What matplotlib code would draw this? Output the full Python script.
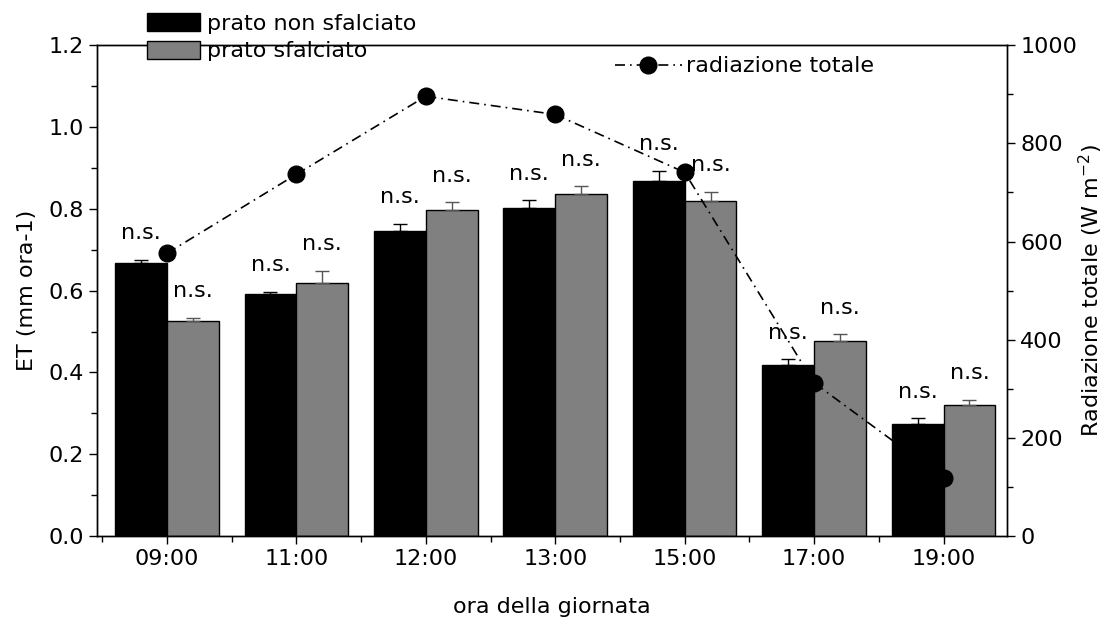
import numpy as np
import matplotlib.pyplot as plt
from matplotlib.ticker import MultipleLocator

plt.rcParams['font.family'] = ['DejaVu Sans']
plt.rcParams['font.size'] = 16

ore = ["09:00", "11:00", "12:00", "13:00", "15:00", "17:00", "19:00"]
et_non_sfalciato = [0.667, 0.592, 0.746, 0.802, 0.868, 0.418, 0.275]
err_non_sfalciato = [0.008, 0.005, 0.017, 0.019, 0.025, 0.014, 0.013]
et_sfalciato = [0.525, 0.618, 0.797, 0.836, 0.820, 0.476, 0.320]
err_sfalciato = [0.009, 0.030, 0.019, 0.019, 0.022, 0.017, 0.013]
radiazione = [576, 737, 896, 859, 741, 312, 118]
etichette = ["n.s."] * 7

x = np.arange(len(ore))
w = 0.4

fig, ax = plt.subplots(figsize=(11.09, 6.2), dpi=100)
fig.subplots_adjust(left=0.0875, right=0.908, top=0.927, bottom=0.1355)

b1 = ax.bar(x - w / 2, et_non_sfalciato, w, color='black', edgecolor='black',
            linewidth=1, label='prato non sfalciato')
b2 = ax.bar(x + w / 2, et_sfalciato, w, color='#808080', edgecolor='black',
            linewidth=1, label='prato sfalciato')
ax.errorbar(x - w / 2, et_non_sfalciato, yerr=[np.zeros(7), err_non_sfalciato],
            fmt='none', ecolor='black', elinewidth=1, capsize=5)
ax.errorbar(x + w / 2, et_sfalciato, yerr=[np.zeros(7), err_sfalciato],
            fmt='none', ecolor='#555555', elinewidth=1, capsize=5)

for i in range(len(ore)):
    ax.annotate(etichette[i], (x[i] - w / 2, et_non_sfalciato[i] + err_non_sfalciato[i]),
                xytext=(0, 12), textcoords='offset points', ha='center', va='bottom')
    ax.annotate(etichette[i], (x[i] + w / 2, et_sfalciato[i] + err_sfalciato[i]),
                xytext=(0, 12), textcoords='offset points', ha='center', va='bottom')

ax.set_xlim(-0.54, 6.49)
ax.set_ylim(0, 1.2)
ax.set_xticks(x)
ax.set_xticklabels(ore)
ax.xaxis.set_minor_locator(MultipleLocator(0.5))
ax.yaxis.set_major_locator(MultipleLocator(0.2))
ax.yaxis.set_minor_locator(MultipleLocator(0.1))
ax.yaxis.set_major_formatter(plt.FormatStrFormatter('%.1f'))
ax.tick_params(which='major', direction='out', length=6, width=1)
ax.tick_params(which='minor', direction='out', length=4, width=1)
ax.set_ylabel("ET (mm ora-1)", labelpad=8)
ax.set_xlabel("ora della giornata", labelpad=20)

ax2 = ax.twinx()
ln, = ax2.plot(x, radiazione, color='black', linestyle='-.', dashes=(6, 3, 1, 3),
               linewidth=1.2, marker='o', markersize=12, label='radiazione totale')
ax2.set_ylim(0, 1000)
ax2.yaxis.set_major_locator(MultipleLocator(200))
ax2.yaxis.set_minor_locator(MultipleLocator(100))
ax2.tick_params(which='major', direction='out', length=6, width=1)
ax2.tick_params(which='minor', direction='out', length=4, width=1)
ax2.set_ylabel("Radiazione totale (W m$^{-2}$)", labelpad=0)
ax2.set_zorder(ax.get_zorder() + 1)

for a in (ax, ax2):
    for s in a.spines.values():
        s.set_linewidth(1)

fig.legend(handles=[b1, b2], loc='upper left', bbox_to_anchor=(0.1325, 0.979),
           frameon=False, handlelength=2.4, handleheight=0.9, borderaxespad=0,
           borderpad=0, labelspacing=0.3, handletextpad=0.3)
fig.legend(handles=[ln], loc='upper left', bbox_to_anchor=(0.5445, 0.927),
           frameon=False, handlelength=3.0, handletextpad=0.2, borderpad=0)

plt.savefig("out.png", dpi=100)
